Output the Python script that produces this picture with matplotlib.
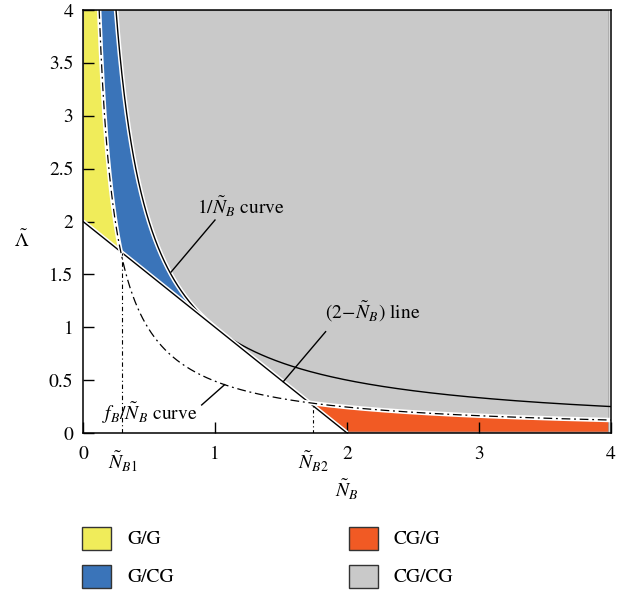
import numpy as np
import matplotlib
matplotlib.use("Agg")
import matplotlib.pyplot as plt
import matplotlib.transforms as mtransforms
from matplotlib.patches import Rectangle

plt.rcParams["font.family"] = ["STIXGeneral", "DejaVu Serif"]
plt.rcParams["mathtext.fontset"] = "stix"
plt.rcParams["font.size"] = 14

# %%
# values
f_B = 0.49                      # f_B / N_B curve constant
N_B1 = 0.298                    # marked positions on the N_B axis
N_B2 = 1.742
x_ticks = [0, 1, 2, 3, 4]
y_ticks = [0, 0.5, 1, 1.5, 2, 2.5, 3, 3.5, 4]
y_tick_labels = ["0", "0.5", "1", "1.5", "2", "2.5", "3", "3.5", "4"]
x_right = 3.98                  # right end of the shaded regions

region_names = ["G/G", "G/CG", "CG/G", "CG/CG"]
region_colors = ["#f0ec5a", "#3a74b9", "#f15a24", "#c9c9c9"]
edge_grey = "#a0a0a0"

# %%
fig = plt.figure(figsize=(6.33, 5.94), dpi=100)
ax = fig.add_axes([83 / 633, 1 - 433 / 594, 528 / 633, 423 / 594])

# crossing points of f_B/N_B with the (2 - N_B) line
xa = 1 - np.sqrt(1 - f_B)
xb = 1 + np.sqrt(1 - f_B)

# G/G
yy = np.linspace(2 - xa, 4, 300)
ax.fill_betweenx(yy, np.maximum(0, 2 - yy), f_B / yy,
                 facecolor=region_colors[0], edgecolor=edge_grey, lw=0.8)
# G/CG
yy = np.linspace(1, 4, 400)
ax.fill_betweenx(yy, np.maximum(f_B / yy, 2 - yy), 1 / yy,
                 facecolor=region_colors[1], edgecolor=edge_grey, lw=0.8)
# CG/G
xx = np.linspace(xb, x_right, 400)
ax.fill_between(xx, np.maximum(0.012, 2 - xx), f_B / xx,
                facecolor=region_colors[2], edgecolor=edge_grey, lw=0.8)
# CG/CG
xx = np.linspace(0.25, x_right, 800)
low = np.where(xx < 1, 1 / xx, np.maximum(2 - xx, f_B / xx))
ax.fill_between(xx, low, 4, facecolor=region_colors[3],
                edgecolor=edge_grey, lw=0.8)

# curves, each with a thin white band underneath
halo = 3.2
n1 = np.linspace(0.25, 1.0, 300)
n2 = np.linspace(1.0, 4.0, 300)
ax.plot(n1, 1 / n1, color="white", lw=halo, solid_capstyle="butt")
ax.plot(np.r_[n1, n2], 1 / np.r_[n1, n2], color="black", lw=1.0)

nl = np.array([0.0, 2.0])
ax.plot(nl, 2 - nl, color="white", lw=halo, solid_capstyle="butt")
ax.plot(nl, 2 - nl, color="black", lw=1.0)

nf = np.linspace(f_B / 4, 4, 600)
ax.plot(nf, f_B / nf, color="white", lw=halo, solid_capstyle="butt")
ax.plot(nf, f_B / nf, color="black", lw=0.9, dashes=(7, 3, 1.5, 3))

ax.plot([N_B1, N_B1], [0, 2 - N_B1], color="black", lw=0.8, dashes=(4, 2.5, 1, 2.5))
ax.plot([N_B2, N_B2], [0, 2 - N_B2], color="black", lw=0.8, dashes=(3, 2.5, 1, 2.5))

# labels with leader lines
ax.plot([0.667, 1.0], [1.522, 2.014], color="black", lw=1.0)
ax.text(0.864, 2.137, r"$1/\tilde{N}_B$ curve", va="center", ha="left")
ax.plot([1.517, 1.838], [0.485, 0.958], color="black", lw=1.0)
ax.text(1.833, 1.144, r"$(2\!-\!\tilde{N}_B)$ line", va="center", ha="left")
ax.plot([0.899, 1.073], [0.265, 0.457], color="black", lw=1.0)
ax.text(0.142, 0.189, r"$f_B/\tilde{N}_B$ curve", va="center", ha="left")

# axes
ax.set_xlim(0, 4)
ax.set_ylim(0, 4)
ax.set_xticks(x_ticks)
ax.set_yticks(y_ticks)
ax.set_yticklabels(y_tick_labels)
ax.tick_params(direction="in", length=8, width=1.0, top=False, right=False)
ax.tick_params(axis="x", pad=9)
ax.tick_params(axis="y", pad=7)
for s in ax.spines.values():
    s.set_linewidth(1.1)

trans = mtransforms.blended_transform_factory(ax.transData, ax.transAxes)
ax.text(N_B1, -0.068, r"$\tilde{N}_{B1}$", transform=trans, ha="center", va="center")
ax.text(N_B2, -0.068, r"$\tilde{N}_{B2}$", transform=trans, ha="center", va="center")

ax.set_xlabel(r"$\tilde{N}_B$", va="center")
ax.xaxis.set_label_coords(0.5, -0.135)
ax.set_ylabel(r"$\tilde{\Lambda}$", rotation=0, va="center", ha="center")
ax.yaxis.set_label_coords(-0.1155, 0.456)

# legend below the plot
legend_pos = [(82, 527), (82, 565), (349, 527), (349, 565)]
for name, color, (px, py) in zip(region_names, region_colors, legend_pos):
    fig.add_artist(Rectangle((px / 633, 1 - (py + 23) / 594), 29 / 633, 23 / 594,
                             transform=fig.transFigure, facecolor=color,
                             edgecolor="#333333", lw=1.0))
    fig.text((px + 45) / 633, 1 - (py + 12) / 594, name, va="center", ha="left")

fig.savefig("out.png", dpi=100)
